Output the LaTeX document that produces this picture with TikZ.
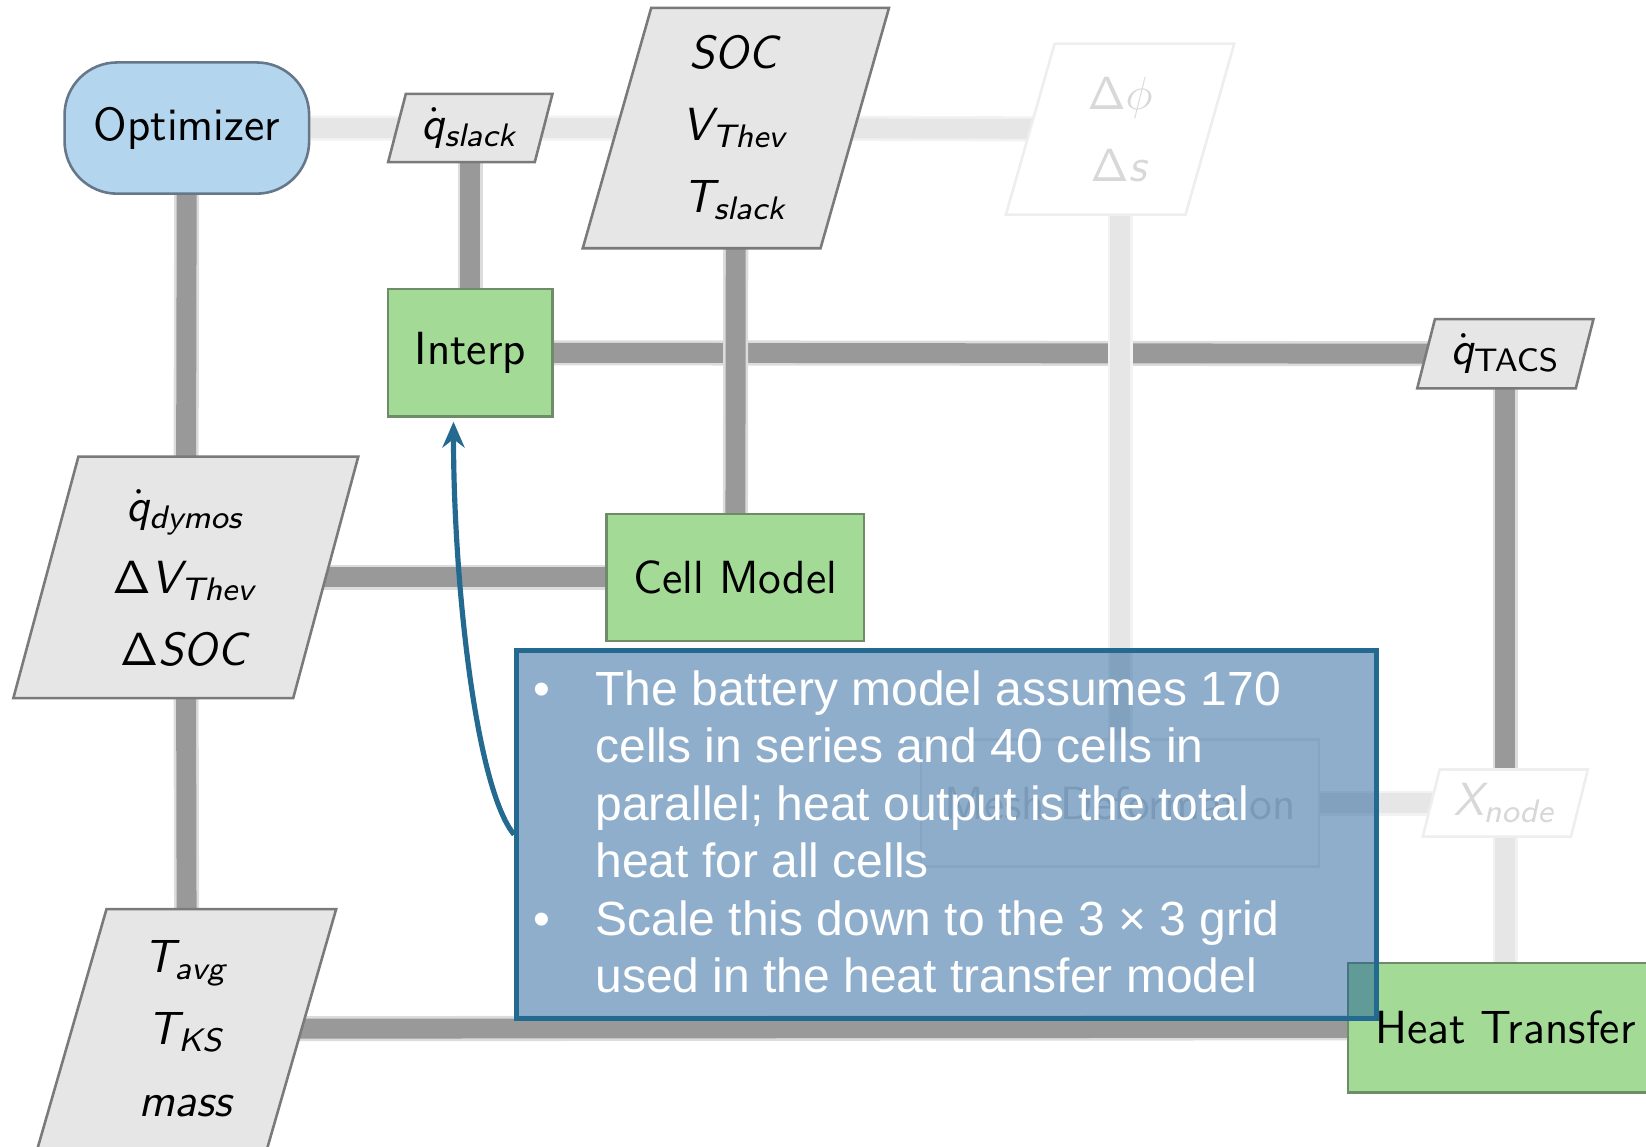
\RequirePackage{fix-cm}
\documentclass[tikz,border=0pt]{standalone}
\usepackage[no-math]{fontspec}
\usetikzlibrary{arrows.meta,shapes.geometric,backgrounds}
\newfontfamily\notefont{Liberation Sans}
\DeclareMathAlphabet{\mathsfit}{OT1}{cmss}{m}{sl}
\definecolor{optfill}{HTML}{B3D5ED}
\definecolor{optline}{HTML}{66778A}
\definecolor{compfill}{HTML}{A2DA96}
\definecolor{compline}{HTML}{6F8C68}
\definecolor{datafill}{HTML}{E6E6E6}
\definecolor{dataline}{HTML}{7A7A7A}
\definecolor{linkcore}{HTML}{999999}
\definecolor{linkedge}{HTML}{DCDCDC}
\definecolor{fadedcore}{HTML}{E6E6E6}
\definecolor{fadededge}{HTML}{F2F2F2}
\definecolor{fadedline}{HTML}{EEEEEE}
\definecolor{fadedtext}{HTML}{D8D8D8}
\definecolor{notefill}{HTML}{1F5D99}
\definecolor{noteline}{HTML}{236990}

\begin{document}
\begin{tikzpicture}[
  label font/.style={font=\sffamily\fontsize{12.6}{19.5}\selectfont},
  optbox/.style={label font, draw=optline, fill=optfill, line width=0.7pt,
    rounded corners=0.5cm, minimum width=2.33cm, minimum height=1.25cm},
  compbox/.style={label font, draw=compline, fill=compfill, line width=0.7pt,
    minimum height=1.21cm},
  databox/.style={label font, trapezium, trapezium left angle=75.5,
    trapezium right angle=104.5, trapezium stretches=true, align=center,
    draw=dataline, fill=datafill, line width=0.7pt},
  fadedbox/.style={draw=fadedline, fill=white, text=fadedtext},
  datalink/.style={draw=linkedge, line width=0.7pt, double=linkcore, double distance=5.4pt},
  fadedlink/.style={draw=fadededge, line width=0.7pt, double=fadedcore, double distance=5.4pt},
  notebox/.style={draw=noteline, line width=1.3pt, fill=notefill, fill opacity=0.5},
  notetext/.style={text=white, inner sep=0pt, font=\notefont\fontsize{13}{15.6}\selectfont},
  notearrow/.style={draw=noteline, line width=1.4pt, -{Stealth[length=7pt,width=6pt]}}
]
  \useasboundingbox (0,0) rectangle (15.68,-10.92);

  % Diagonal
  \node[optbox] (opt) at (1.78,-1.22) {Optimizer};
  \node[compbox, minimum width=1.57cm] (interp) at (4.48,-3.36) {Interp};
  \node[compbox, minimum width=2.45cm] (cell) at (7.005,-5.50) {Cell Model};
  \node[compbox, fadedbox, minimum width=3.79cm] (mesh) at (10.67,-7.65) {Mesh Deformation};
  \node[compbox, minimum width=3.00cm, minimum height=1.23cm] (heat) at (14.34,-9.79) {Heat Transfer};

  % Data
  \node[databox, minimum width=1.57cm, minimum height=0.65cm] (qslack) at (4.48,-1.22)
    {$\dot{\mathsfit{q}}_{\mathsfit{slack}}$};
  \node[databox, minimum width=2.93cm, minimum height=2.29cm] (soc) at (7.01,-1.22)
    {$\mathsfit{SOC}$\\ $\mathsfit{V}_{\mathsfit{Thev}}$\\ $\mathsfit{T}_{\mathsfit{slack}}$};
  \node[databox, fadedbox, minimum width=2.18cm, minimum height=1.63cm] (dphi) at (10.67,-1.23)
    {$\mathsf{\Delta}\phi$\\ $\mathsf{\Delta}\mathsfit{s}$};
  \node[databox, minimum width=1.68cm, minimum height=0.66cm] (qtacs) at (14.34,-3.37)
    {$\dot{\mathsfit{q}}_{\mathsf{TACS}}$};
  \node[databox, minimum width=3.30cm, minimum height=2.30cm] (dvth) at (1.77,-5.50)
    {$\dot{\mathsfit{q}}_{\mathsfit{dymos}}$\\ $\mathsf{\Delta}\mathsfit{V}_{\mathsfit{Thev}}$\\ $\mathsf{\Delta}\mathsfit{SOC}$};
  \node[databox, fadedbox, minimum width=1.58cm, minimum height=0.64cm] (xnode) at (14.34,-7.65)
    {$\mathsfit{X}_{\mathsfit{node}}$};
  \node[databox, minimum width=2.85cm, minimum height=2.28cm] (tavg) at (1.78,-9.80)
    {$\mathsfit{T}_{\mathsfit{avg}}$\\ $\mathsfit{T}_{\mathsfit{KS}}$\\ $\mathsfit{mass}$};

  % Links: rows first, then columns
  \begin{scope}[on background layer]
    \draw[fadedlink] (opt.center) -- (qslack.center) -- (soc.center) -- (dphi.center);
    \draw[datalink] (interp.center) -- (qtacs.center);
    \draw[datalink] (dvth.center) -- (cell.center);
    \draw[fadedlink] (mesh.center) -- (xnode.center);
    \draw[datalink] (tavg.center) -- (heat.center);

    \draw[datalink] (opt.center) -- (dvth.center) -- (tavg.center);
    \draw[datalink] (qslack.center) -- (interp.center);
    \draw[datalink] (soc.center) -- (cell.center);
    \draw[fadedlink] (dphi.center) -- (mesh.center);
    \draw[datalink] (qtacs.center) -- (xnode.center);
    \draw[fadedlink] (xnode.center) -- (heat.center);
  \end{scope}

  % Note
  \node[notebox, minimum width=8.19cm, minimum height=3.50cm] (note) at (9.015,-7.95) {};
  \node[notetext, anchor=north west] (notetxt) at ([xshift=0.18cm,yshift=-0.15cm]note.north west) {%
    \begin{tabular}{@{}p{0.59cm}@{}l@{}}
      \textbullet & The battery model assumes 170\\
                  & cells in series and 40 cells in\\
                  & parallel; heat output is the total\\
                  & heat for all cells\\
      \textbullet & Scale this down to the 3 × 3 grid\\
                  & used in the heat transfer model
    \end{tabular}};
  \draw[notearrow] (note.west) .. controls +(-0.37,0.45) and +(0,-1.5) .. ([xshift=-0.16cm,yshift=-0.04cm]interp.south);

\end{tikzpicture}
\end{document}
